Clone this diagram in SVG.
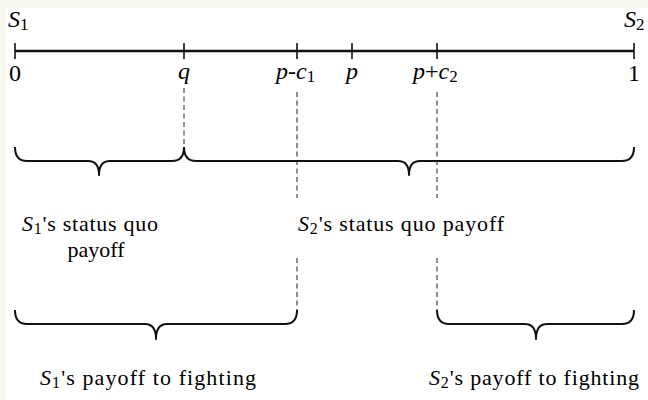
<svg xmlns="http://www.w3.org/2000/svg" width="648" height="400" viewBox="0 0 648 400">
  <style>
    .axis { stroke: #111; stroke-width: 2.4; fill: none; }
    .tick { stroke: #111; stroke-width: 1.6; fill: none; }
    .guide { stroke: #333; stroke-width: 1.1; stroke-dasharray: 5 3.5; fill: none; }
    .brace { stroke: #111; stroke-width: 2; fill: none; stroke-linejoin: round; }
    .lbl { font-family: "Liberation Serif", "Times New Roman", serif; fill: #000; }
    .big { font-size: 24px; }
    .txt { font-size: 22px; }
    .it { font-style: italic; }
  </style>

  <!-- page background and frame -->
  <rect x="0" y="0" width="648" height="400" fill="#f8f7ee"/>
  <rect x="6" y="8" width="642" height="392" fill="#ffffff"/>

  <!-- end labels -->
  <g id="end-s1">
    <text class="lbl big" x="8" y="27"><tspan class="it">S</tspan><tspan font-size="17" dy="3">1</tspan></text>
  </g>
  <g id="end-s2">
    <text class="lbl big" x="624" y="27"><tspan class="it">S</tspan><tspan font-size="17" dy="3">2</tspan></text>
  </g>

  <!-- number line with ticks -->
  <g id="axis">
    <line class="axis" x1="15" y1="51" x2="634" y2="51"/>
    <line class="tick" x1="15" y1="43" x2="15" y2="59"/>
    <line class="tick" x1="184" y1="43" x2="184" y2="59"/>
    <line class="tick" x1="297" y1="43" x2="297" y2="59"/>
    <line class="tick" x1="352" y1="43" x2="352" y2="59"/>
    <line class="tick" x1="437" y1="43" x2="437" y2="59"/>
    <line class="tick" x1="634" y1="43" x2="634" y2="59"/>
  </g>

  <!-- tick labels -->
  <g id="tick-labels">
    <text class="lbl big" x="15" y="81" text-anchor="middle">0</text>
    <text class="lbl big it" x="184" y="79" text-anchor="middle">q</text>
    <text class="lbl big" x="276" y="79"><tspan class="it">p</tspan>-<tspan class="it">c</tspan><tspan font-size="17" dy="3">1</tspan></text>
    <text class="lbl big it" x="352" y="79" text-anchor="middle">p</text>
    <text class="lbl big" x="413" y="79"><tspan class="it">p</tspan>+<tspan class="it">c</tspan><tspan font-size="17" dy="3">2</tspan></text>
    <text class="lbl big" x="634" y="81" text-anchor="middle">1</text>
  </g>

  <!-- dashed guide lines -->
  <g id="connectors">
    <line class="guide" x1="184" y1="88" x2="184" y2="147"/>
    <line class="guide" x1="297" y1="92" x2="297" y2="198"/>
    <line class="guide" x1="437" y1="92" x2="437" y2="198"/>
    <line class="guide" x1="297" y1="258" x2="297" y2="312"/>
    <line class="guide" x1="437" y1="258" x2="437" y2="312"/>
  </g>

  <!-- status quo braces -->
  <g id="brace-s1-sq">
    <path class="brace" d="M15,147 Q15,161 27,161 L88,161 Q99,161 99,175 Q99,161 110,161 L172,161 Q184,161 184,147"/>
  </g>
  <g id="brace-s2-sq">
    <path class="brace" d="M184,147 Q184,161 196,161 L398,161 Q409,161 409,175 Q409,161 420,161 L622,161 Q634,161 634,147"/>
  </g>

  <!-- fighting payoff braces -->
  <g id="brace-s1-fight">
    <path class="brace" d="M15,310 Q15,324 27,324 L145,324 Q156,324 156,339 Q156,324 167,324 L285,324 Q297,324 297,310"/>
  </g>
  <g id="brace-s2-fight">
    <path class="brace" d="M437,310 Q437,324 449,324 L525,324 Q536,324 536,339 Q536,324 547,324 L622,324 Q634,324 634,310"/>
  </g>

  <!-- brace labels -->
  <g id="label-s1-sq">
    <text class="lbl txt" x="22" y="231" textLength="136" lengthAdjust="spacing"><tspan class="it">S</tspan><tspan font-size="16" dy="3">1</tspan><tspan dy="-3">'s status quo</tspan></text>
    <text class="lbl txt" x="96" y="257" text-anchor="middle">payoff</text>
  </g>
  <g id="label-s2-sq">
    <text class="lbl txt" x="298" y="231" textLength="206" lengthAdjust="spacing"><tspan class="it">S</tspan><tspan font-size="16" dy="3">2</tspan><tspan dy="-3">'s status quo payoff</tspan></text>
  </g>
  <g id="label-s1-fight">
    <text class="lbl txt" x="40" y="385" textLength="216" lengthAdjust="spacing"><tspan class="it">S</tspan><tspan font-size="16" dy="3">1</tspan><tspan dy="-3">'s payoff to fighting</tspan></text>
  </g>
  <g id="label-s2-fight">
    <text class="lbl txt" x="429" y="385" textLength="210" lengthAdjust="spacing"><tspan class="it">S</tspan><tspan font-size="16" dy="3">2</tspan><tspan dy="-3">'s payoff to fighting</tspan></text>
  </g>
</svg>
